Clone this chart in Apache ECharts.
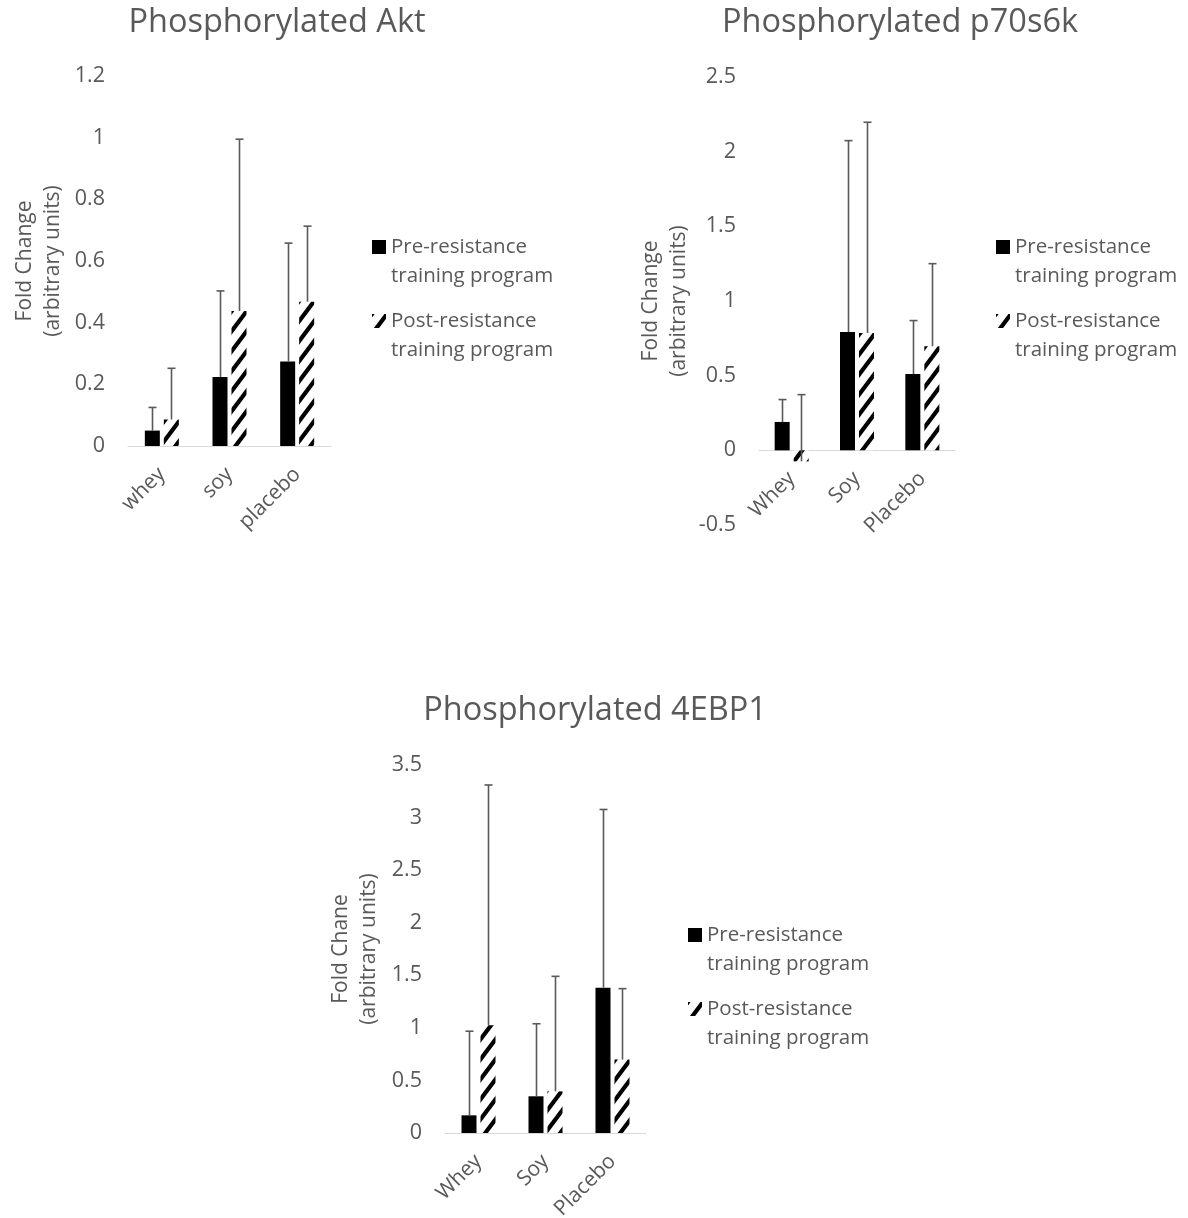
<!DOCTYPE html>
<html>
<head>
<meta charset="utf-8">
<script src="https://cdn.jsdelivr.net/npm/echarts@6/dist/echarts.min.js"></script>
<style>
  html, body { margin: 0; padding: 0; background: #fff; }
  #chart { width: 1188px; height: 1218px; }
</style>
</head>
<body>
<div id="chart"></div>
<script>
// ---------- data ----------
const seriesNames = ['Pre-resistance\ntraining program', 'Post-resistance\ntraining program'];

const aktCategories = ['whey', 'soy', 'placebo'];
const aktPre = [0.05, 0.224, 0.274];
const aktPreErr = [0.075, 0.279, 0.384];
const aktPost = [0.086, 0.438, 0.468];
const aktPostErr = [0.166, 0.557, 0.245];
const aktTicks = { min: 0, max: 1.2, interval: 0.2 };

const p70Categories = ['Whey', 'Soy', 'Placebo'];
const p70Pre = [0.19, 0.792, 0.511];
const p70PreErr = [0.15, 1.282, 0.358];
const p70Post = [-0.074, 0.786, 0.697];
const p70PostErr = [0.447, 1.411, 0.553];
const p70Ticks = { min: -0.5, max: 2.5, interval: 0.5 };

const ebpCategories = ['Whey', 'Soy', 'Placebo'];
const ebpPre = [0.168, 0.349, 1.382];
const ebpPreErr = [0.8, 0.69, 1.695];
const ebpPost = [1.024, 0.396, 0.698];
const ebpPostErr = [2.286, 1.094, 0.675];
const ebpTicks = { min: 0, max: 3.5, interval: 0.5 };

// ---------- styling ----------
const FONT = '"Open Sans", "Liberation Sans", sans-serif';
const TXT = '#595959';
const BAR_W = 15;
const BAR_GAP_PX = 4;

function makeStripePattern() {
  const w = 15, h = 20, t = 7;
  const c = document.createElement('canvas');
  c.width = w; c.height = h;
  const ctx = c.getContext('2d');
  ctx.fillStyle = '#ffffff';
  ctx.fillRect(0, 0, w, h);
  ctx.fillStyle = '#000000';
  const y = (x, k) => h - (h / w) * x + k * h;
  for (let k = -1; k <= 1; k++) {
    ctx.beginPath();
    ctx.moveTo(-1, y(-1, k) - t / 2);
    ctx.lineTo(w + 1, y(w + 1, k) - t / 2);
    ctx.lineTo(w + 1, y(w + 1, k) + t / 2);
    ctx.lineTo(-1, y(-1, k) + t / 2);
    ctx.closePath();
    ctx.fill();
  }
  return c;
}
const stripe = { image: makeStripePattern(), repeat: 'repeat' };

// legend icon: 14x14 square at the top of a 14x43 box (so it lines up with the first text line)
const LEG_ICON = 'path://M0,0 L14,0 L14,14 L0,14 Z M0,43 L14,43 Z';
const LEG_H = 43;

const chart = echarts.init(document.getElementById('chart'), null, { renderer: 'canvas' });

const panels = [
  { title: 'Phosphorylated Akt', titleX: 277, titleY: 6, yName: 'Fold Change\n(arbitrary units)', nameGap: 61,
    grid: { left: 128, top: 76, width: 203, height: 370 },
    cats: aktCategories, pre: aktPre, preErr: aktPreErr, post: aktPost, postErr: aktPostErr, ticks: aktTicks,
    legendLeft: 372, legendCenters: [247, 321] },
  { title: 'Phosphorylated p70s6k', titleX: 900, titleY: 6, yName: 'Fold Change\n(arbitrary units)', nameGap: 66,
    grid: { left: 759, top: 77, width: 196, height: 448 },
    cats: p70Categories, pre: p70Pre, preErr: p70PreErr, post: p70Post, postErr: p70PostErr, ticks: p70Ticks,
    legendLeft: 996, legendCenters: [247, 321] },
  { title: 'Phosphorylated 4EBP1', titleX: 595, titleY: 694, yName: 'Fold Chane\n(arbitrary units)', nameGap: 62,
    grid: { left: 445, top: 765, width: 201, height: 368 },
    cats: ebpCategories, pre: ebpPre, preErr: ebpPreErr, post: ebpPost, postErr: ebpPostErr, ticks: ebpTicks,
    legendLeft: 688, legendCenters: [935, 1009] }
];

const option = {
  animation: false,
  backgroundColor: '#ffffff',
  textStyle: { fontFamily: FONT },
  title: [], grid: [], xAxis: [], yAxis: [], legend: [], series: []
};

function errorRenderer(sign) {
  return function (params, api) {
    const x = api.value(0), v = api.value(1), e = api.value(2);
    const p0 = api.coord([x, v]);
    const p1 = api.coord([x, v + e]);
    const off = sign * (BAR_W + BAR_GAP_PX) / 2;
    const cx = Math.round(p0[0] + off) + 0.5;
    const style = { stroke: '#595959', lineWidth: 1.6 };
    return {
      type: 'group',
      children: [
        { type: 'line', shape: { x1: cx, y1: p0[1], x2: cx, y2: p1[1] }, style },
        { type: 'line', shape: { x1: cx - 4, y1: p1[1], x2: cx + 4, y2: p1[1] }, style }
      ]
    };
  };
}

panels.forEach((p, i) => {
  option.title.push({
    text: p.title, left: p.titleX, top: p.titleY, textAlign: 'center', padding: 0,
    textStyle: { fontFamily: FONT, fontSize: 32.5, fontWeight: 'normal', color: TXT }
  });
  option.grid.push(Object.assign({ containLabel: false, outerBoundsMode: 'none' }, p.grid));
  // place the category axis at value 0 (labels follow it)
  const zeroOffset = -(0 - p.ticks.min) / (p.ticks.max - p.ticks.min) * p.grid.height;
  option.xAxis.push({
    type: 'category', gridIndex: i, data: p.cats, offset: zeroOffset,
    axisLine: { onZero: false, lineStyle: { color: '#d9d9d9', width: 1 } },
    axisTick: { show: false },
    axisLabel: { rotate: 45, fontSize: 21, color: TXT, fontFamily: FONT, margin: 25, interval: 0 },
    splitLine: { show: false }
  });
  option.yAxis.push({
    type: 'value', gridIndex: i, min: p.ticks.min, max: p.ticks.max, interval: p.ticks.interval,
    name: p.yName, nameLocation: 'middle', nameGap: p.nameGap,
    nameTextStyle: { fontSize: 21, color: TXT, fontFamily: FONT, lineHeight: 28 },
    axisLine: { show: false }, axisTick: { show: false },
    axisLabel: { fontSize: 21.5, color: TXT, fontFamily: FONT, margin: 23 },
    splitLine: { show: false }
  });
  seriesNames.forEach((nm, j) => {
    option.legend.push({
      data: [nm], orient: 'vertical', left: p.legendLeft, top: p.legendCenters[j] - 14.5,
      padding: 0, itemWidth: 14, itemHeight: LEG_H, icon: LEG_ICON, selectedMode: false,
      textStyle: { fontSize: 20.5, color: TXT, fontFamily: FONT, lineHeight: 29 }
    });
  });
  option.series.push({
    name: seriesNames[0], type: 'bar', xAxisIndex: i, yAxisIndex: i,
    data: p.pre, barWidth: BAR_W, barGap: (BAR_GAP_PX / BAR_W * 100) + '%',
    itemStyle: { color: '#000000' }
  });
  option.series.push({
    name: seriesNames[1], type: 'bar', xAxisIndex: i, yAxisIndex: i,
    data: p.post, barWidth: BAR_W, barGap: (BAR_GAP_PX / BAR_W * 100) + '%',
    itemStyle: { color: stripe }
  });
  option.series.push({
    type: 'custom', xAxisIndex: i, yAxisIndex: i, z: 5,
    renderItem: errorRenderer(-1),
    data: p.pre.map((v, k) => [k, v, p.preErr[k]]),
    encode: { x: 0, y: 1 }
  });
  option.series.push({
    type: 'custom', xAxisIndex: i, yAxisIndex: i, z: 5,
    renderItem: errorRenderer(1),
    data: p.post.map((v, k) => [k, v, p.postErr[k]]),
    encode: { x: 0, y: 1 }
  });
});

chart.setOption(option);
</script>
</body>
</html>
